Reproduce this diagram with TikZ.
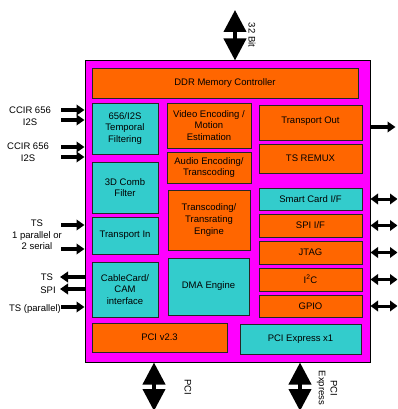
\documentclass[tikz,border=0pt]{standalone}
\usepackage{fontspec}
\setmainfont{Liberation Sans}
\usepackage{xcolor}
\definecolor{chipmag}{HTML}{FF00FF}
\definecolor{blkorange}{HTML}{FF6600}
\definecolor{blkcyan}{HTML}{33CCCC}
\usetikzlibrary{arrows.meta}

\begin{document}
\begin{tikzpicture}[x=1pt,y=-1pt,font=\fontsize{9.5}{11.7}\selectfont]
  \tikzstyle{ob}=[draw=black!85,line width=0.9pt,fill=blkorange,align=center,inner sep=0pt]
  \tikzstyle{cb}=[draw=black!85,line width=0.9pt,fill=blkcyan,align=center,inner sep=0pt]
  \tikzstyle{sig}=[line width=3.2pt,-{Triangle[length=8pt,width=10.5pt]}]
  \tikzstyle{bus}=[line width=3pt,{Triangle[length=7.5pt,width=10.5pt]}-{Triangle[length=7.5pt,width=10.5pt]}]
  \tikzstyle{wide}=[line width=4pt,{Triangle[length=22pt,width=22pt]}-{Triangle[length=22pt,width=22pt]}]
  \tikzstyle{lbl}=[align=center,inner sep=0pt]

  \useasboundingbox (0,0) rectangle (397,409);
  \clip (0,0) rectangle (397,409);

  % chip outline
  \node[draw=black,line width=1pt,fill=chipmag,minimum width=285pt,minimum height=301pt,inner sep=0pt] (chip) at (227.5,211.5) {};

  % blocks
  \node[ob,minimum width=266pt,minimum height=30pt] (ddr)     at (225,83)      {DDR Memory Controller};
  \node[cb,minimum width=66pt,minimum height=51pt]  (temporal) at (125,128.5)  {656/I2S\\Temporal\\Filtering};
  \node[cb,minimum width=66pt,minimum height=51pt]  (comb)    at (125,187.5)   {3D Comb\\Filter};
  \node[cb,minimum width=66pt,minimum height=37pt]  (tpin)    at (125,235.5)   {Transport In};
  \node[cb,minimum width=66pt,minimum height=55pt]  (cablecard) at (125,289.5) {CableCard/\\CAM\\interface};
  \node[ob,minimum width=135pt,minimum height=29pt] (pci)     at (159.5,337.5) {PCI v2.3};
  \node[cb,minimum width=121pt,minimum height=30pt] (pcie)    at (300.5,339)   {PCI Express x1};
  \node[ob,minimum width=84pt,minimum height=45pt]  (video)   at (209,125.5)   {Video Encoding /\\Motion\\Estimation};
  \node[ob,minimum width=84pt,minimum height=31pt]  (audio)   at (209,167.5)   {Audio Encoding/\\Transcoding};
  \node[ob,minimum width=82pt,minimum height=60pt]  (transcode) at (209,220)   {Transcoding/\\Transrating\\Engine};
  \node[cb,minimum width=81pt,minimum height=57pt]  (dma)     at (208.5,286.5) {DMA Engine};
  \node[ob,minimum width=103pt,minimum height=35pt] (tpout)   at (310.5,122.5) {\raisebox{5pt}{Transport Out}};
  \node[ob,minimum width=103pt,minimum height=29pt] (remux)   at (310.5,158.5) {TS REMUX};
  \node[cb,minimum width=103pt,minimum height=22pt] (smart)   at (310.5,199)   {Smart Card I/F};
  \node[ob,minimum width=103pt,minimum height=23pt] (spi)     at (310.5,225.5) {SPI I/F};
  \node[ob,minimum width=103pt,minimum height=23pt] (jtag)    at (310.5,252.5) {JTAG};
  \node[ob,minimum width=103pt,minimum height=23pt] (i2c)     at (310.5,279.5) {I\textsuperscript{2}C};
  \node[ob,minimum width=103pt,minimum height=22pt] (gpio)    at (310.5,306)   {GPIO};

  % external buses
  \draw[wide] (235,10) coordinate (membus) -- (chip.north -| membus);
  \draw[wide] (chip.south -| 154,0) -- (154,411) coordinate (pcibus);
  \draw[wide] (chip.south -| 300,0) -- (300,411) coordinate (pciebus);
  \node[lbl,rotate=-90] (membuslbl)  at (252,35)  {32 Bit};
  \node[lbl,rotate=-90] (pcibuslbl)  at (188,387) {PCI};
  \node[lbl,rotate=-90] (pciebuslbl) at (327,388) {PCI\\Express};

  % left side signals
  \foreach \y [count=\i] in {110,120,147,157,225,249,307}
    \draw[sig] (61,\y) coordinate (src\i) -- (chip.west |- src\i);
  \foreach \y [count=\i] in {277,289}
    \draw[sig] (chip.west |- 0,\y) -- (60,\y) coordinate (dst\i);
  \node[lbl] (ccir1) at (30,116) {CCIR 656\\I2S};
  \node[lbl] (ccir2) at (28,152) {CCIR 656\\I2S};
  \node[lbl] (tsin)  at (37,235) {TS\\1 parallel or\\2 serial};
  \node[lbl] (tsout) at (47,277) {TS};
  \node[lbl] (spiout) at (48,290) {SPI};
  \node[lbl] (tspar) at (35,309) {TS (parallel)};

  % right side signals
  \draw[sig] (chip.east |- 0,127) -- ++(25,0) coordinate (tsport);
  \foreach \n in {smart,spi,jtag,i2c,gpio}
    \draw[bus] (chip.east |- \n) -- ++(27,0);
\end{tikzpicture}
\end{document}
